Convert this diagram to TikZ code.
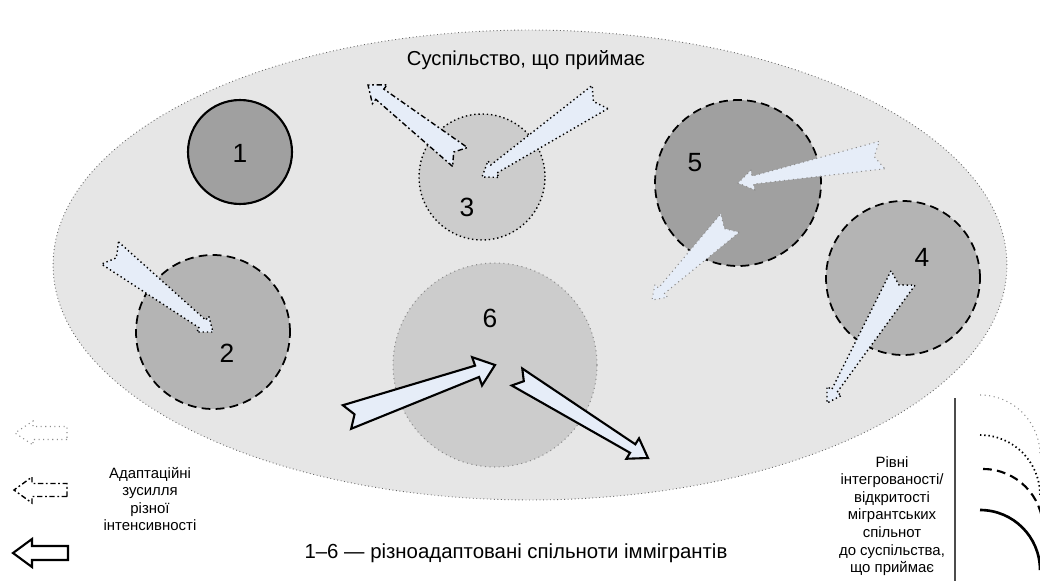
\documentclass[tikz,border=0pt]{standalone}
\usepackage{fontspec}
\setmainfont{Liberation Sans}
\usetikzlibrary{calc,shapes.geometric}
\definecolor{socgray}{RGB}{230,230,230}
\definecolor{darkgrp}{RGB}{160,160,160}
\definecolor{midgrp}{RGB}{180,180,180}
\definecolor{lightgrp}{RGB}{204,204,204}
\definecolor{arrblue}{RGB}{230,237,248}

\tikzset{
  arrfill/.style={fill=arrblue},
  solidline/.style={draw=black, line width=1.2pt},
  dashline/.style={draw=black, line width=1pt, dash pattern=on 5pt off 3pt},
  dashdotline/.style={draw=black, line width=0.8pt, dash pattern=on 3pt off 1.5pt on 1pt off 1.5pt},
  dotline/.style={draw=black, line width=0.8pt, dash pattern=on 0.8pt off 1.6pt},
  faintline/.style={draw=black!45, line width=0.6pt, dash pattern=on 0.6pt off 2pt},
  grp/.style={circle, inner sep=0pt},
  num/.style={font=\fontsize{15}{15}\selectfont},
  small/.style={align=center, font=\fontsize{8.5}{10}\selectfont},
}

\newcommand{\notchdepth}{0.16cm}
% fat arrow: [style] {tail} {tip} {tail half width} {neck half width} {head half width} {head length}
\newcommand{\fatarrow}[7][]{%
  \draw[#1] ($(#2)!#4!90:(#3)$)
    -- ($($(#3)!#7!(#2)$)!#5!90:(#3)$)
    -- ($($(#3)!#7!(#2)$)!#6!90:(#3)$)
    -- (#3)
    -- ($($(#3)!#7!(#2)$)!#6!-90:(#3)$)
    -- ($($(#3)!#7!(#2)$)!#5!-90:(#3)$)
    -- ($(#2)!#4!-90:(#3)$)
    -- ($(#2)!\notchdepth!(#3)$) -- cycle;}

\begin{document}
\begin{tikzpicture}[x=0.02cm, y=-0.02cm] % one unit is one pixel of the 1040x581 picture
  \useasboundingbox (0,0) rectangle (1040,581);
  \clip (0,0) rectangle (1040,581);

  % the receiving society
  \node[ellipse, inner sep=0pt, fill=socgray, draw=black!60, line width=0.5pt, dash pattern=on 0.5pt off 1.5pt,
        minimum width=19.08cm, minimum height=9.4cm] (soc) at (530,265) {};
  \node[font=\fontsize{11.5}{13}\selectfont] (title) at (526,60) {Суспільство, що приймає};

  % immigrant communities
  \node[grp, fill=darkgrp, solidline, minimum size=2.08cm] (c1) at (240,152) {};
  \node[grp, fill=midgrp, dashline, minimum size=3.08cm] (c2) at (213,332) {};
  \node[grp, fill=lightgrp, dotline, minimum size=2.52cm] (c3) at (482,177) {};
  \node[grp, fill=midgrp, dashline, minimum size=3.08cm] (c4) at (903,278) {};
  \node[grp, fill=darkgrp, dashline, minimum size=3.32cm] (c5) at (738,183) {};
  \node[grp, fill=lightgrp, faintline, minimum size=4.08cm] (c6) at (495,365) {};

  % labels
  \node[num] (n1) at (240,153) {1};
  \node[num] (n2) at (227,353) {2};
  \node[num] (n3) at (467,207) {3};
  \node[num] (n4) at (922,257) {4};
  \node[num] (n5) at (695,163) {5};
  \node[num] (n6) at (490,318) {6};

  % ends of the arrows
  \coordinate (a3out) at (460,157);
  \coordinate (a3end) at (368,85);
  \coordinate (a3in) at (600,97);
  \coordinate (a2in) at (110,253);
  \coordinate (a5in) at (882,155);
  \coordinate (a5out) at (730,223);
  \coordinate (a5end) at (652,300);
  \coordinate (a4end) at (827,403);
  \coordinate (a6in) at (347,417);
  \coordinate (a6out) at (517,377);
  \coordinate (a6end) at (648,458);

  % adaptation efforts
  \fatarrow[arrfill, dashdotline]{a3out}{a3end}{0.24cm}{0.13cm}{0.24cm}{0.3cm}
  \fatarrow[arrfill, dotline]{a3in}{c3.center}{0.28cm}{0.1cm}{0.2cm}{0.28cm}
  \fatarrow[arrfill, dotline]{a2in}{c2.center}{0.28cm}{0.1cm}{0.2cm}{0.26cm}
  \fatarrow[arrfill, faintline]{a5in}{c5.center}{0.28cm}{0.08cm}{0.2cm}{0.3cm}
  \fatarrow[arrfill, faintline]{a5out}{a5end}{0.26cm}{0.08cm}{0.18cm}{0.26cm}
  \fatarrow[arrfill, dotline]{c4.center}{a4end}{0.28cm}{0.06cm}{0.17cm}{0.28cm}
  \fatarrow[arrfill, solidline]{a6in}{c6.center}{0.25cm}{0.12cm}{0.3cm}{0.38cm}
  \fatarrow[arrfill, solidline]{a6out}{a6end}{0.2cm}{0.1cm}{0.24cm}{0.36cm}

  \node[font=\fontsize{11.6}{13}\selectfont] (caption) at (516,553) {1–6 — різноадаптовані спільноти іммігрантів};

  % legend: intensity of the efforts
  \coordinate (l1tail) at (67,433);
  \coordinate (l1tip) at (15,433);
  \coordinate (l2tail) at (67,490);
  \coordinate (l2tip) at (14,490);
  \coordinate (l3tail) at (68,553);
  \coordinate (l3tip) at (13,553);
  {\renewcommand{\notchdepth}{0cm}
  \fatarrow[fill=white, faintline]{l1tail}{l1tip}{0.13cm}{0.13cm}{0.24cm}{0.36cm}
  \fatarrow[fill=white, dashdotline]{l2tail}{l2tip}{0.13cm}{0.13cm}{0.26cm}{0.36cm}
  \fatarrow[fill=white, solidline]{l3tail}{l3tip}{0.14cm}{0.14cm}{0.28cm}{0.38cm}
  }
  \node[small] (legtext) at (150,499) {Адаптаційні\\зусилля\\різної\\інтенсивності};

  % legend: levels of openness
  \node[small] (leveltext) at (892,516) {Рівні\\інтегрованості/\\відкритості\\мігрантських\\спільнот\\до суспільства,\\що приймає};
  \coordinate (vtop) at (955,398);
  \coordinate (vbot) at (955,581);
  \draw[black!70, line width=1pt] (vtop) -- (vbot);
  \draw[faintline] (980,395) arc[start angle=90, end angle=0, radius=1.2cm];
  \draw[dotline, line width=1pt] (980,435) arc[start angle=90, end angle=0, radius=1.2cm];
  \draw[dashline, line width=1.2pt] (983,469) arc[start angle=90, end angle=0, radius=1.2cm];
  \draw[solidline, line width=1.5pt] (980,510) arc[start angle=90, end angle=0, radius=1.2cm];
\end{tikzpicture}
\end{document}
